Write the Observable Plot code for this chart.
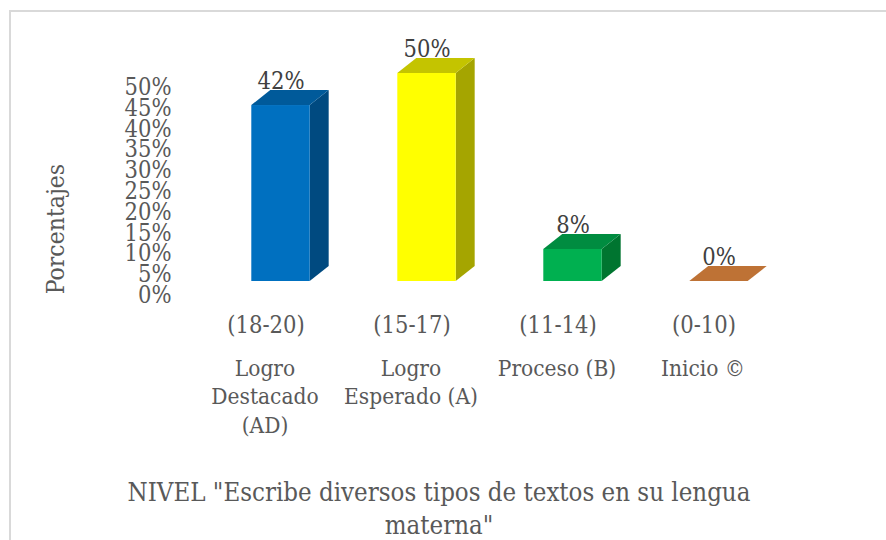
<!DOCTYPE html>
<html><head><meta charset="utf-8">
<script src="https://cdn.jsdelivr.net/npm/d3@7"></script>
<script src="https://cdn.jsdelivr.net/npm/@observablehq/plot@0.6"></script>
<style>
html,body{margin:0;padding:0;background:#fff;overflow:hidden}
#chart{position:absolute;left:0;top:0;width:886px;height:540px}
#border{position:absolute;left:9px;top:10px;width:877px;height:530px;border-left:2px solid #d9d9d9;border-top:2px solid #d9d9d9;box-sizing:border-box}
svg{position:absolute;left:0;top:0;background:transparent!important}
</style></head><body>
<div id="border"></div><div id="chart"></div>
<script>
const ranges = ["(18-20)", "(15-17)", "(11-14)", "(0-10)"];
const names = ["Logro\nDestacado\n(AD)", "Logro\nEsperado (A)", "Proceso (B)", "Inicio ©"];
const values = [42.3, 50, 7.7, 0];
const frontColors = ["#0070C0", "#FFFF00", "#00B050", "#ED7D31"];
const topColors = ["#005A9A", "#C4C400", "#008C40", "#BE7235"];
const sideColors = ["#004A80", "#A5A500", "#007530", "#9E5E28"];
const yTicks = [0,5,10,15,20,25,30,35,40,45,50];
const yLabel = "Porcentajes";
const titleText = 'NIVEL "Escribe diversos tipos de textos en su lengua\nmaterna"';

const halfWidth = 0.2, depthX = 0.13, depthY = 3.6;
const font = "'DejaVu Serif Condensed', 'DejaVu Serif', serif";
const rows = values.map((v, i) => ({i, v, l: i - halfWidth, r: i + halfWidth, range: ranges[i], name: names[i], front: frontColors[i], top: topColors[i], side: sideColors[i]}));
const sidePts = rows.filter(d => d.v > 0).flatMap(d => [
  {i: d.i, x: d.r, y1: 0, y2: d.v, c: d.side},
  {i: d.i, x: d.r + depthX, y1: depthY, y2: d.v + depthY, c: d.side}]);
const topPts = rows.flatMap(d => [
  {i: d.i, y: d.v, x1: d.l, x2: d.r, c: d.top},
  {i: d.i, y: d.v + depthY, x1: d.l + depthX, x2: d.r + depthX, c: d.top}]);

const ml = 175;
const plot = Plot.plot({
  width: 886, height: 540,
  marginLeft: ml, marginRight: 0, marginTop: 73, marginBottom: 259,
  style: {fontFamily: font, background: "transparent", overflow: "visible"},
  color: {type: "identity"},
  x: {domain: [(ml - 280.5) / 146, (886 - 280.5) / 146]},
  y: {domain: [0, 50]},
  marks: [
    Plot.axisY({ticks: yTicks, tickFormat: d => d + "%", tickSize: 0, tickPadding: 4, dy: 14, label: null, fontSize: 23.5, color: "#595959"}),
    Plot.axisX({ticks: [0,1,2,3], tickFormat: d => ranges[d], tickSize: 0, tickPadding: 0, dx: -15, dy: 35, label: null, fontSize: 23.5, color: "#595959"}),
    Plot.text(rows, {x: "i", y: 0, text: "name", dx: -16, dy: 74, lineAnchor: "top", lineHeight: 1.27, fontSize: 22.5, fill: "#595959"}),
    Plot.areaY(sidePts, {x: "x", y1: "y1", y2: "y2", z: "i", fill: "c"}),
    Plot.areaX(topPts, {y: "y", x1: "x1", x2: "x2", z: "i", fill: "c"}),
    Plot.rectY(rows.filter(d => d.v > 0), {x1: "l", x2: "r", y1: 0, y2: "v", fill: "front"}),
    Plot.text(rows, {x: "i", y: "v", text: d => Math.round(d.v) + "%", dy: -24, fontSize: 23.5, fill: "#404040"}),
    Plot.text([yLabel], {x: () => -1.54, y: () => 12.6, rotate: -90, fontSize: 24.5, fill: "#595959"}),
    Plot.text([titleText], {frameAnchor: "bottom", dx: -92, dy: 252.5, lineAnchor: "bottom", lineHeight: 1.3, fontSize: 25.6, fill: "#595959"})
  ]
});
document.getElementById("chart").appendChild(plot);
</script>
</body></html>
